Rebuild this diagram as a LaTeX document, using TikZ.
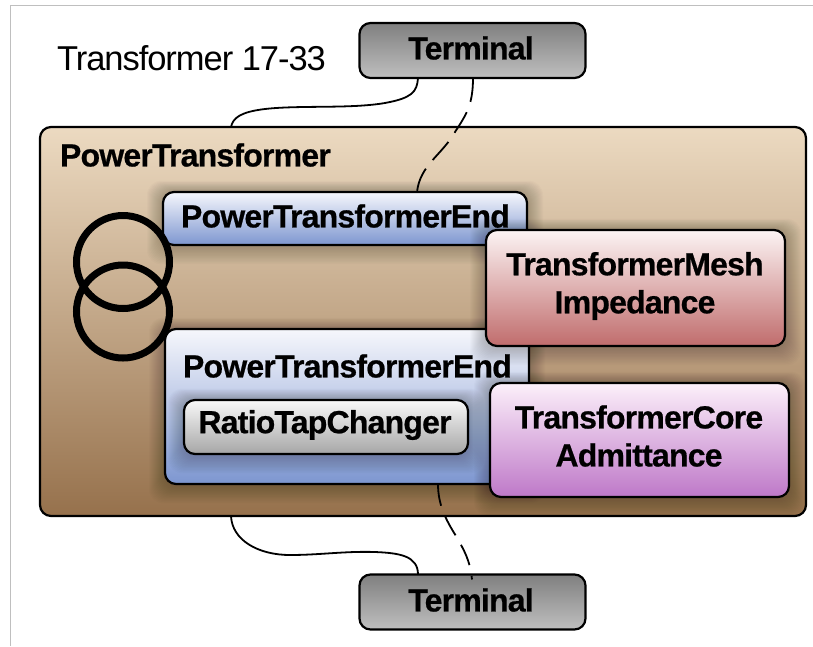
\documentclass[tikz,border=0pt]{standalone}
\usepackage{fontspec}
\setmainfont{Liberation Sans}
\newfontfamily\lblfont[LetterSpace=-2.5,FakeBold=0.6]{Liberation Sans Bold}
\newfontfamily\ttlfont[LetterSpace=-3]{Liberation Sans}
\tikzset{
  box/.style={draw=black,line width=2.2pt,rounded corners=11pt,inner sep=0pt,outer sep=0pt},
  lbl/.style={inner sep=0pt,outer sep=0pt,align=center,text=black,font=\lblfont\fontsize{32}{38}\selectfont},
  wire/.style={draw=black,line width=1.8pt},
  dashwire/.style={wire,dash pattern=on 24pt off 11pt},
  coil/.style={circle,draw=black,line width=7pt,minimum size=93pt,inner sep=0pt,fill=none},
  term/.style={box,minimum width=226pt,minimum height=55pt,top color=black!50!white,bottom color=black!25!white},
  outerb/.style={box,minimum width=766pt,minimum height=389pt,top color=tanT,bottom color=tanB},
  endb/.style={box,top color=bluT,bottom color=bluB},
  tapb/.style={box,minimum width=284pt,minimum height=54pt,top color=white!95!gray,bottom color=black!35!white},
  meshb/.style={box,minimum width=299pt,minimum height=116pt,top color=redT,bottom color=redB},
  coreb/.style={box,minimum width=299pt,minimum height=114pt,top color=purT,bottom color=purB},
}
\definecolor{tanT}{RGB}{236,218,193}
\definecolor{tanB}{RGB}{150,113,76}
\definecolor{bluT}{RGB}{246,247,252}
\definecolor{bluB}{RGB}{125,150,208}
\definecolor{redT}{RGB}{252,244,244}
\definecolor{redB}{RGB}{192,108,108}
\definecolor{purT}{RGB}{252,240,250}
\definecolor{purB}{RGB}{190,120,200}
\newcommand{\softshadow}[4]{%
  \foreach \i in {1,...,16}{
    \fill[black,opacity=0.016,rounded corners=14pt]
      ({#1-\i*1.0},{#2-\i*0.7}) rectangle ({#3+\i*1.0},{#4+\i*1.2});
  }}
\begin{document}
\begin{tikzpicture}[x=1pt,y=-1pt]
\useasboundingbox (0,0) rectangle (813,646);
\fill[white] (0,0) rectangle (813,646);
\draw[black!25,line width=1.5pt] (10.5,646) -- (10.5,5.5) -- (813,5.5);

\node[lbl,font=\ttlfont\fontsize{34.5}{38}\selectfont] (title) at (191.5,58) {Transformer 17-33};

\node[outerb] (pt) at (423,321.5) {};
\node[lbl,anchor=west] (ptlabel) at (60,155) {PowerTransformer};

\softshadow{163}{192}{527}{245}
\node[endb,minimum width=364pt,minimum height=53pt] (endA) at (345,218.5) {};
\node[lbl,anchor=west] (endAlabel) at (181,216) {PowerTransformerEnd};

\softshadow{165}{329}{529}{484}
\node[endb,minimum width=364pt,minimum height=155pt] (endB) at (347,406.5) {};
\node[lbl,anchor=west] (endBlabel) at (183,366) {PowerTransformerEnd};

\softshadow{184}{400}{468}{454}
\node[tapb] (tap) at (326,427) {};
\node[lbl] (taplabel) at (325,425) {RatioTapChanger};

\softshadow{486}{230}{785}{346}
\node[meshb] (mesh) at (635.5,288) {};
\node[lbl] (meshlabel) at (635,286) {TransformerMesh\\Impedance};

\softshadow{490}{383}{789}{497}
\node[coreb] (core) at (639.5,440) {};
\node[lbl] (corelabel) at (639,436) {TransformerCore\\Admittance};

\node[coil] (coilA) at (123,262) {};
\node[coil] (coilB) at (123,311.5) {};

\node[term] (termA) at (472.5,50.5) {};
\node[lbl] (termAlabel) at (471,48) {Terminal};
\node[term] (termB) at (472.5,602) {};
\node[lbl] (termBlabel) at (471,600) {Terminal};

\draw[wire] ([xshift=-54.5pt]termA.south)
  .. controls (417,92) and (412,98) .. (385,103)
  .. controls (350,109) and (300,105) .. (265,109)
  .. controls (240,112) and (233,118) .. ([xshift=-192pt]pt.north);
\draw[dashwire] ([xshift=0.5pt]termA.south)
  .. controls (473,105) and (466,115) .. (455,132)
  .. controls (442,155) and (420,165) .. ([xshift=72pt]endA.north);
\draw[wire] ([xshift=-192pt]pt.south)
  .. controls (232,540) and (258,555) .. (290,555)
  .. controls (320,555) and (345,551) .. (375,552)
  .. controls (400,553) and (418,556) .. ([xshift=-54.5pt]termB.north);
\draw[dashwire,dash pattern=on 22pt off 11pt on 22pt off 11pt on 22pt off 11pt] ([xshift=91pt]endB.south)
  .. controls (438,505) and (446,520) .. (456,536)
  .. controls (464,550) and (470,560) .. ([xshift=-0.5pt,yshift=-5pt]termB.north);
\end{tikzpicture}
\end{document}
